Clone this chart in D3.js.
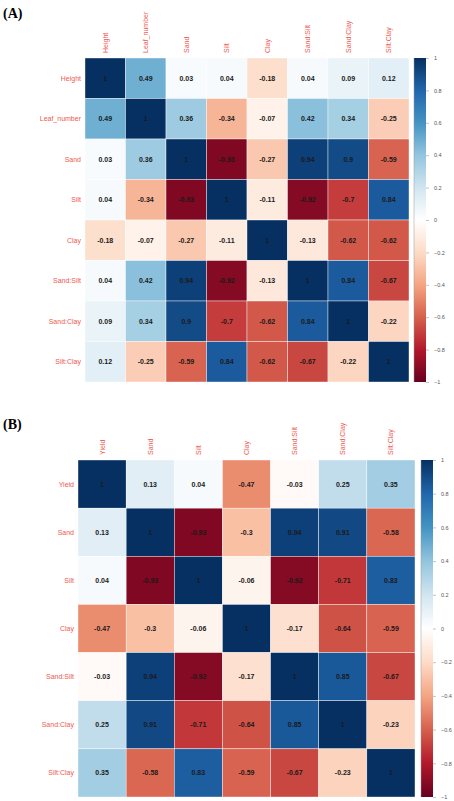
<!DOCTYPE html>
<html>
<head>
<meta charset="utf-8">
<script src="https://cdn.jsdelivr.net/npm/d3@7"></script>
<style>
  body { margin: 0; background: #fff; }
  svg { display: block; }
</style>
</head>
<body>
<svg id="canvas" width="454" height="801"></svg>
<script>
// Panel A data
let varsA = ['Height', 'Leaf_number', 'Sand', 'Silt', 'Clay', 'Sand:Silt', 'Sand:Clay', 'Silt:Clay']
let corrA = [
    [1, 0.49, 0.03, 0.04, -0.18, 0.04, 0.09, 0.12],
    [0.49, 1, 0.36, -0.34, -0.07, 0.42, 0.34, -0.25],
    [0.03, 0.36, 1, -0.93, -0.27, 0.94, 0.9, -0.59],
    [0.04, -0.34, -0.93, 1, -0.11, -0.92, -0.7, 0.84],
    [-0.18, -0.07, -0.27, -0.11, 1, -0.13, -0.62, -0.62],
    [0.04, 0.42, 0.94, -0.92, -0.13, 1, 0.84, -0.67],
    [0.09, 0.34, 0.9, -0.7, -0.62, 0.84, 1, -0.22],
    [0.12, -0.25, -0.59, 0.84, -0.62, -0.67, -0.22, 1]
]

// Panel B data
let varsB = ['Yield', 'Sand', 'Silt', 'Clay', 'Sand:Silt', 'Sand:Clay', 'Silt:Clay']
let corrB = [
    [1, 0.13, 0.04, -0.47, -0.03, 0.25, 0.35],
    [0.13, 1, -0.93, -0.3, 0.94, 0.91, -0.58],
    [0.04, -0.93, 1, -0.06, -0.92, -0.71, 0.83],
    [-0.47, -0.3, -0.06, 1, -0.17, -0.64, -0.59],
    [-0.03, 0.94, -0.92, -0.17, 1, 0.85, -0.67],
    [0.25, 0.91, -0.71, -0.64, 0.85, 1, -0.23],
    [0.35, -0.58, 0.83, -0.59, -0.67, -0.23, 1]
]

// colour bar ticks
let barTicks = [1, 0.8, 0.6, 0.4, 0.2, 0, -0.2, -0.4, -0.6, -0.8, -1]

// RdBu palette as used by corrplot (from -1 to 1)
let palette = ['#67001F', '#B2182B', '#D6604D', '#F4A582', '#FDDBC7', '#FFFFFF',
               '#D1E5F0', '#92C5DE', '#4393C3', '#2166AC', '#053061']

let color = d3.scaleLinear()
    .domain(palette.map((c, i) => -1 + i * 0.2))
    .range(palette)
    .interpolate(d3.interpolateRgb)

let canvas = d3.select('#canvas')
let labelCol = '#ee5a52'
let fontFam = '"Liberation Sans", Arial, sans-serif'

// gradient for the colour bars
let grad = canvas.append('defs').append('linearGradient')
    .attr('id', 'barGrad')
    .attr('x1', 0).attr('y1', 1).attr('x2', 0).attr('y2', 0)
grad.selectAll('stop')
    .data(palette)
    .enter()
    .append('stop')
    .attr('offset', (d, i) => (i / (palette.length - 1) * 100) + '%')
    .attr('stop-color', d => d)

let drawCorr = (vars, corr, opt) => {
    let g = canvas.append('g')

    let x = d3.scaleBand().domain(vars).range([opt.x0, opt.x0 + opt.size])
    let y = d3.scaleBand().domain(vars).range([opt.y0, opt.y0 + opt.size])

    let cells = []
    corr.forEach((row, i) => row.forEach((v, j) => cells.push({ r: vars[i], c: vars[j], v: v })))

    g.selectAll('rect.cell')
        .data(cells)
        .enter()
        .append('rect')
        .attr('class', 'cell')
        .attr('x', d => x(d.c))
        .attr('y', d => y(d.r))
        .attr('width', x.bandwidth())
        .attr('height', y.bandwidth())
        .attr('fill', d => color(d.v))
        .style('stroke', '#fff')
        .style('stroke-width', '0.4px')

    g.selectAll('text.num')
        .data(cells)
        .enter()
        .append('text')
        .attr('x', d => x(d.c) + x.bandwidth() / 2)
        .attr('y', d => y(d.r) + y.bandwidth() / 2)
        .attr('dy', '0.35em')
        .attr('text-anchor', 'middle')
        .style('font-family', fontFam)
        .style('font-size', '7px')
        .style('font-weight', 'bold')
        .attr('fill', '#1a1a1a')
        .text(d => d.v)

    // row labels
    g.selectAll('text.row')
        .data(vars)
        .enter()
        .append('text')
        .attr('x', opt.x0 - 4)
        .attr('y', d => y(d) + y.bandwidth() / 2)
        .attr('dy', '0.35em')
        .attr('text-anchor', 'end')
        .style('font-family', fontFam)
        .style('font-size', '7px')
        .attr('fill', labelCol)
        .text(d => d)

    // column labels (rotated)
    g.selectAll('text.col')
        .data(vars)
        .enter()
        .append('text')
        .attr('transform', d => `translate(${x(d) + x.bandwidth() / 2},${opt.y0 - 5}) rotate(-90)`)
        .attr('dy', '0.35em')
        .attr('text-anchor', 'start')
        .style('font-family', fontFam)
        .style('font-size', '7px')
        .attr('fill', labelCol)
        .text(d => d)

    // colour bar
    let by = d3.scaleLinear().domain([-1, 1]).range([opt.y0 + opt.size, opt.y0])
    g.append('rect')
        .attr('x', opt.barX)
        .attr('y', opt.y0)
        .attr('width', 12)
        .attr('height', opt.size)
        .attr('fill', 'url(#barGrad)')
    g.append('line')
        .attr('x1', opt.barX).attr('x2', opt.barX)
        .attr('y1', opt.y0).attr('y2', opt.y0 + opt.size)
        .style('stroke', '#999')
        .style('stroke-width', '0.5px')

    let axis = g.append('g')
        .attr('transform', `translate(${opt.barX + 12},0)`)
        .call(d3.axisRight(by).tickValues(barTicks).tickSize(3).tickPadding(5).tickFormat(d3.format('')))
    axis.select('.domain').remove()
    axis.selectAll('line').style('stroke', '#888').style('stroke-width', '0.5px')
    axis.selectAll('text')
        .style('font-family', fontFam)
        .style('font-size', '5.5px')
        .attr('fill', '#555')

    // panel letter
    canvas.append('text')
        .attr('x', 3)
        .attr('y', opt.labelY)
        .style('font-family', '"Liberation Serif", "Times New Roman", serif')
        .style('font-size', '14px')
        .style('font-weight', 'bold')
        .text(opt.label)
}

drawCorr(varsA, corrA, { x0: 85, y0: 58, size: 324, barX: 414, labelY: 18, label: '(A)' })
drawCorr(varsB, corrB, { x0: 78, y0: 460, size: 337, barX: 421, labelY: 429, label: '(B)' })
</script>
</body>
</html>
